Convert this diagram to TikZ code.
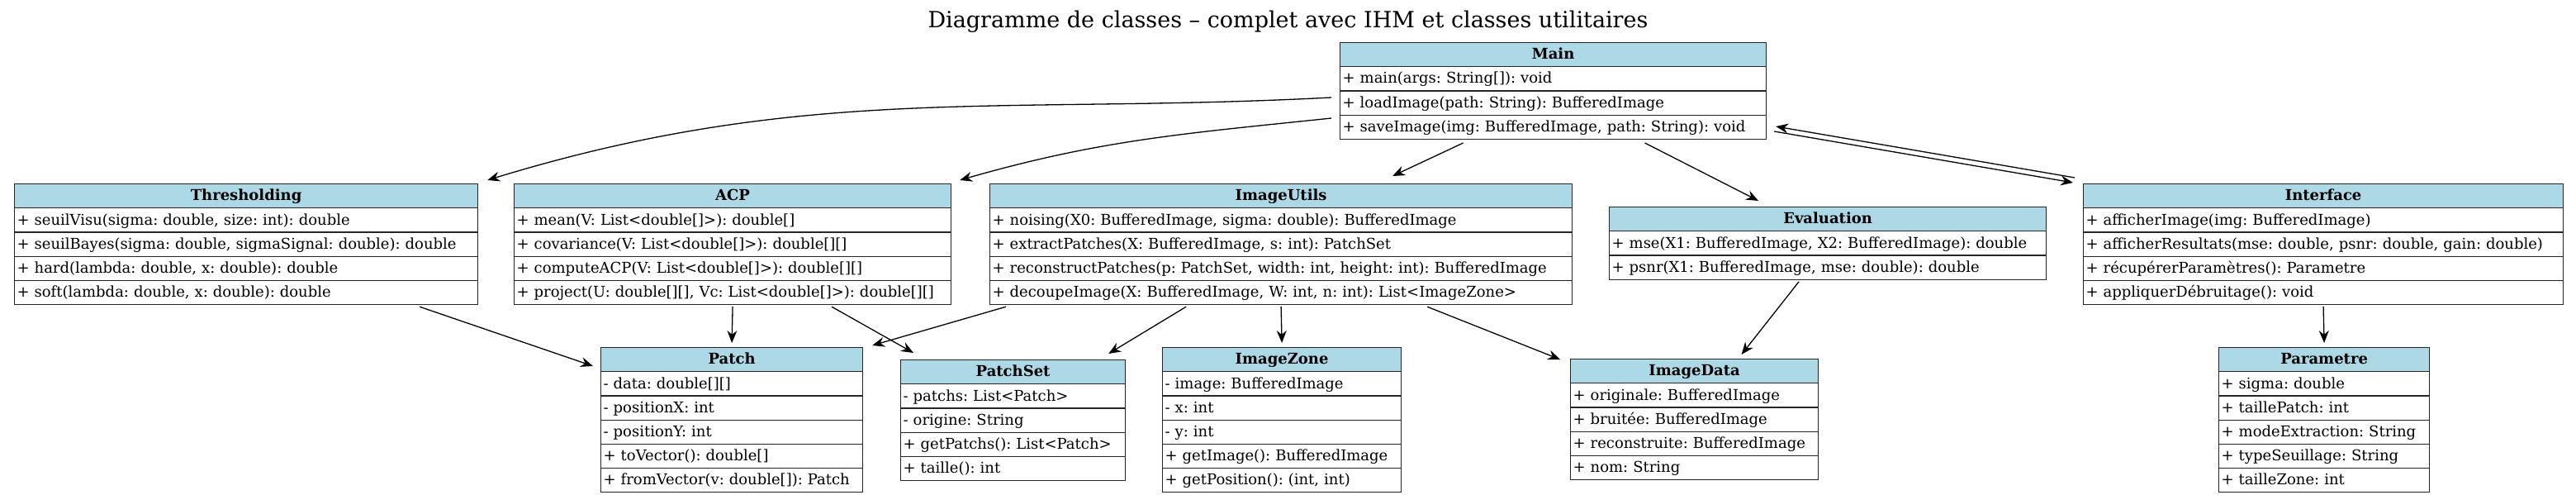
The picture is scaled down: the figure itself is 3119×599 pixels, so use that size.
\documentclass[tikz,border=0pt]{standalone}
\usepackage{fontspec}
\setmainfont{DejaVu Serif}
\usepackage{xcolor}
\usepackage{tikz}
\usetikzlibrary{calc}
\usetikzlibrary{shapes.multipart, arrows.meta}
\definecolor{headblue}{HTML}{ADD8E6}
\tikzstyle{arrow} = [line width=1.3pt,-{Stealth[length=15pt,width=12pt,inset=5pt]}]
\newcommand{\hd}[1]{\hfill\mbox{\strut\textbf{#1}}\hfill\null}
\newcommand{\rw}[1]{\mbox{\strut#1}}
\frenchspacing

\begin{document}
\begin{tikzpicture}[x=1pt, y=1pt,
		umlclass/.style= {rectangle split, rectangle split parts=#1, draw=black!85, line width=1.2pt,
			rectangle split part fill={headblue,white}, inner xsep=3pt, inner ysep=0pt,
			anchor=north west, align=left, font={\fontsize{18}{28}\selectfont}},
		titre/.style= {anchor=base, font={\fontsize{27}{32}\selectfont}}
	]
	\useasboundingbox (0,0) rectangle (3119,-599);
	\node (title) [titre] at (1559.5,-34) {Diagramme de classes – complet avec IHM et classes utilitaires};
	
	% rang 1
	\node (main) [umlclass=4, text width=510pt] at (1622,-51) {\hd{Main}
		\nodepart{two}\rw{+ main(args: String[]): void}
		\nodepart{three}\rw{+ loadImage(path: String): BufferedImage}
		\nodepart{four}\rw{+ saveImage(img: BufferedImage, path: String): void}};
	
	% rang 2
	\node (thr) [umlclass=5, text width=555pt] at (17,-222) {\hd{Thresholding}
		\nodepart{two}\rw{+ seuilVisu(sigma: double, size: int): double}
		\nodepart{three}\rw{+ seuilBayes(sigma: double, sigmaSignal: double): double}
		\nodepart{four}\rw{+ hard(lambda: double, x: double): double}
		\nodepart{five}\rw{+ soft(lambda: double, x: double): double}};
	\node (acp) [umlclass=5, text width=523pt] at (622,-222) {\hd{ACP}
		\nodepart{two}\rw{+ mean(V: List<double[]>): double[]}
		\nodepart{three}\rw{+ covariance(V: List<double[]>): double[][]}
		\nodepart{four}\rw{+ computeACP(V: List<double[]>): double[][]}
		\nodepart{five}\rw{+ project(U: double[][], Vc: List<double[]>): double[][]}};
	\node (iu) [umlclass=5, text width=699pt] at (1198,-222) {\hd{ImageUtils}
		\nodepart{two}\rw{+ noising(X0: BufferedImage, sigma: double): BufferedImage}
		\nodepart{three}\rw{+ extractPatches(X: BufferedImage, s: int): PatchSet}
		\nodepart{four}\rw{+ reconstructPatches(p: PatchSet, width: int, height: int): BufferedImage}
		\nodepart{five}\rw{+ decoupeImage(X: BufferedImage, W: int, n: int): List<ImageZone>}};
	\node (eval) [umlclass=3, text width=523pt] at (1948,-250) {\hd{Evaluation}
		\nodepart{two}\rw{+ mse(X1: BufferedImage, X2: BufferedImage): double}
		\nodepart{three}\rw{+ psnr(X1: BufferedImage, mse: double): double}};
	\node (itf) [umlclass=5, text width=575pt] at (2522,-222) {\hd{Interface}
		\nodepart{two}\rw{+ afficherImage(img: BufferedImage)}
		\nodepart{three}\rw{+ afficherResultats(mse: double, psnr: double, gain: double)}
		\nodepart{four}\rw{+ récupérerParamètres(): Parametre}
		\nodepart{five}\rw{+ appliquerDébruitage(): void}};
	
	% rang 3
	\node (patch) [umlclass=6, text width=311pt] at (727,-420) {\hd{Patch}
		\nodepart{two}\rw{- data: double[][]}
		\nodepart{three}\rw{- positionX: int}
		\nodepart{four}\rw{- positionY: int}
		\nodepart{five}\rw{+ toVector(): double[]}
		\nodepart{six}\rw{+ fromVector(v: double[]): Patch}};
	\node (pset) [umlclass=5, text width=266pt] at (1090,-435) {\hd{PatchSet}
		\nodepart{two}\rw{- patchs: List<Patch>}
		\nodepart{three}\rw{- origine: String}
		\nodepart{four}\rw{+ getPatchs(): List<Patch>}
		\nodepart{five}\rw{+ taille(): int}};
	\node (zone) [umlclass=6, text width=283pt] at (1407,-420) {\hd{ImageZone}
		\nodepart{two}\rw{- image: BufferedImage}
		\nodepart{three}\rw{- x: int}
		\nodepart{four}\rw{- y: int}
		\nodepart{five}\rw{+ getImage(): BufferedImage}
		\nodepart{six}\rw{+ getPosition(): (int, int)}};
	\node (idata) [umlclass=5, text width=294pt] at (1901,-434) {\hd{ImageData}
		\nodepart{two}\rw{+ originale: BufferedImage}
		\nodepart{three}\rw{+ bruitée: BufferedImage}
		\nodepart{four}\rw{+ reconstruite: BufferedImage}
		\nodepart{five}\rw{+ nom: String}};
	\node (param) [umlclass=6, text width=249pt] at (2686,-420) {\hd{Parametre}
		\nodepart{two}\rw{+ sigma: double}
		\nodepart{three}\rw{+ taillePatch: int}
		\nodepart{four}\rw{+ modeExtraction: String}
		\nodepart{five}\rw{+ typeSeuillage: String}
		\nodepart{six}\rw{+ tailleZone: int}};
	
	% liens depuis Main
	\draw [arrow] ([shift={(-10,-67)}]main.north west) to [out=183, in=17] ([shift={(11,4)}]thr.north east);
	\draw [arrow] ([shift={(-10,-92)}]main.north west) to [out=186, in=16] ([shift={(10,4)}]acp.north east);
	\draw [arrow] ([shift={(-109,-4)}]main.south) -- ([shift={(135,9)}]iu.north);
	\draw [arrow] ([shift={(111,-4)}]main.south) -- ([shift={(-84,7)}]eval.north);
	\draw [arrow] ([shift={(-10,7)}]itf.north west) -- ([shift={(11,16)}]main.south east);
	\draw [arrow] ([shift={(9,10)}]main.south east) -- ([shift={(-12,1)}]itf.north west);
	
	% liens vers le rang 3
	\draw [arrow] ([shift={(210,-2)}]thr.south) -- ([shift={(-9,-23)}]patch.north west);
	\draw [arrow] ([yshift=-2]acp.south) -- ([yshift=5]patch.north);
	\draw [arrow] ([shift={(120,-2)}]acp.south) -- ([shift={(16,8)}]pset.north west);
	\draw [arrow] ([shift={(20,-2)}]iu.south west) -- ([shift={(11,2)}]patch.north east);
	\draw [arrow] ([shift={(-115,-2)}]iu.south) -- ([shift={(-21,7)}]pset.north east);
	\draw [arrow] ([yshift=-2]iu.south) -- ([yshift=5]zone.north);
	\draw [arrow] ([shift={(177,-2)}]iu.south) -- ([shift={(-12,-1)}]idata.north west);
	\draw [arrow] ([shift={(-35,-2)}]eval.south) -- ([shift={(57,5)}]idata.north);
	\draw [arrow] ([yshift=-2]itf.south) -- ([yshift=5]param.north);
\end{tikzpicture}
\end{document}
